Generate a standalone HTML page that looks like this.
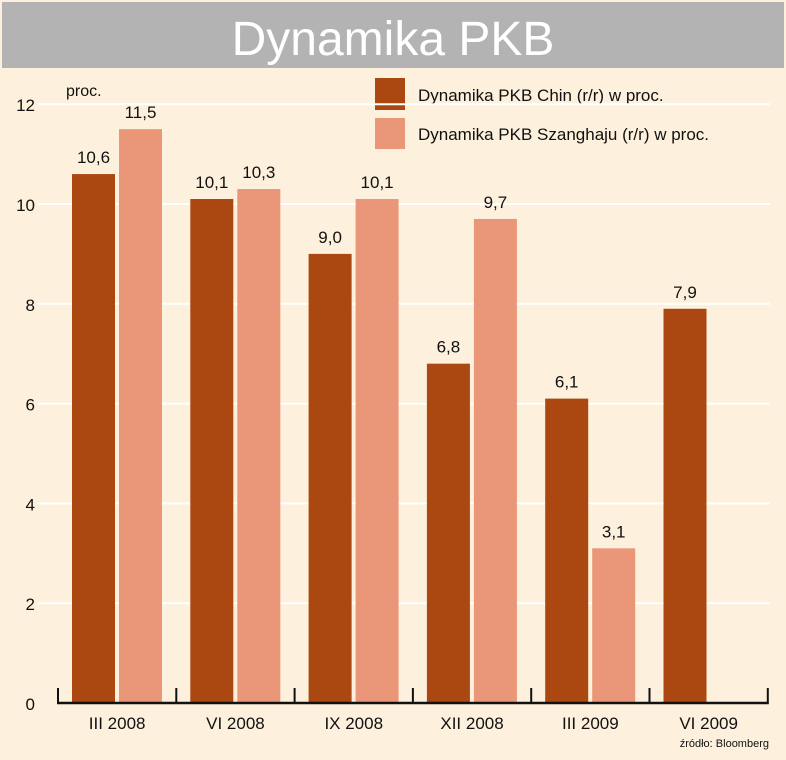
<!DOCTYPE html>
<html><head><meta charset="utf-8"><style>
body{margin:0;background:#fdf0dc;font-family:"Liberation Sans",sans-serif;}
svg{display:block}
</style></head><body>
<svg width="786" height="760" id="c">
<rect x="0" y="0" width="786" height="760" fill="#fdf0dc"/>
<rect x="2" y="2" width="782" height="66" fill="#b3b3b3"/>
<text x="393" y="55" text-anchor="middle" font-size="48" fill="#fff">Dynamika PKB</text>
<text x="66" y="96" font-size="16" fill="#111">proc.</text>
<rect x="375" y="78" width="30" height="32" fill="#ab4711"/>
<text x="418" y="101" font-size="17" fill="#111">Dynamika PKB Chin (r/r) w proc.</text>
<rect x="375" y="118" width="30" height="31" fill="#ea9679"/>
<text x="418" y="140" font-size="17" fill="#111">Dynamika PKB Szanghaju (r/r) w proc.</text>
<g id="grid"></g><g id="bars"></g>
<text x="769" y="747" text-anchor="end" font-size="11" fill="#111">źródło: Bloomberg</text>
</svg>
<script>
const categories=["III 2008","VI 2008","IX 2008","XII 2008","III 2009","VI 2009"];
const chinValues=[10.6,10.1,9.0,6.8,6.1,7.9];
const szangValues=[11.5,10.3,10.1,9.7,3.1,null];
const yTicks=[0,2,4,6,8,10,12];
const NS="http://www.w3.org/2000/svg";
const y0=703,pxPerUnit=49.9,xStart=58,pitch=118.3;
const y=v=>y0-v*pxPerUnit;
const grid=document.getElementById('grid'),bars=document.getElementById('bars');
function mk(tag,attrs,parent){const e=document.createElementNS(NS,tag);for(const k in attrs)e.setAttribute(k,attrs[k]);parent.appendChild(e);return e;}
yTicks.forEach(t=>{
  if(t>0){const l=mk('line',{x1:38,x2:770,y1:y(t),y2:y(t),stroke:'#fff','stroke-width':2},grid);
  
  }
  const tx=mk('text',{x:35,y:y(t)+7,'text-anchor':'end','font-size':17,fill:'#111'},grid);
  tx.textContent=t;
  
  
});
categories.forEach((c,i)=>{
  const gx=xStart+i*pitch;
  const series=[[chinValues[i],'#ab4711','chin',gx+14],[szangValues[i],'#ea9679','szanghaj',gx+61]];
  series.forEach(([v,col,nm,bx])=>{
    if(v==null)return;
    const r=mk('rect',{x:bx,y:y(v),width:43,height:y0-y(v),fill:col},bars);
    
    
    const t=mk('text',{x:bx+21.5,y:y(v)-11,'text-anchor':'middle','font-size':17,fill:'#111'},bars);
    t.textContent=v.toFixed(1).replace('.',',');
    
    
  });
  const cl=mk('text',{x:gx+pitch/2,y:729,'text-anchor':'middle','font-size':17,fill:'#111'},bars);
  cl.textContent=c;
  
  
});
for(let i=0;i<=categories.length;i++){
  const tk=mk('line',{x1:xStart+i*pitch,x2:xStart+i*pitch,y1:688,y2:703,stroke:'#111','stroke-width':2},bars);
  
  
}
const ax=mk('line',{x1:xStart-1,x2:xStart+categories.length*pitch+1,y1:703,y2:703,stroke:'#111','stroke-width':2.5},bars);


</script>
</body></html>
